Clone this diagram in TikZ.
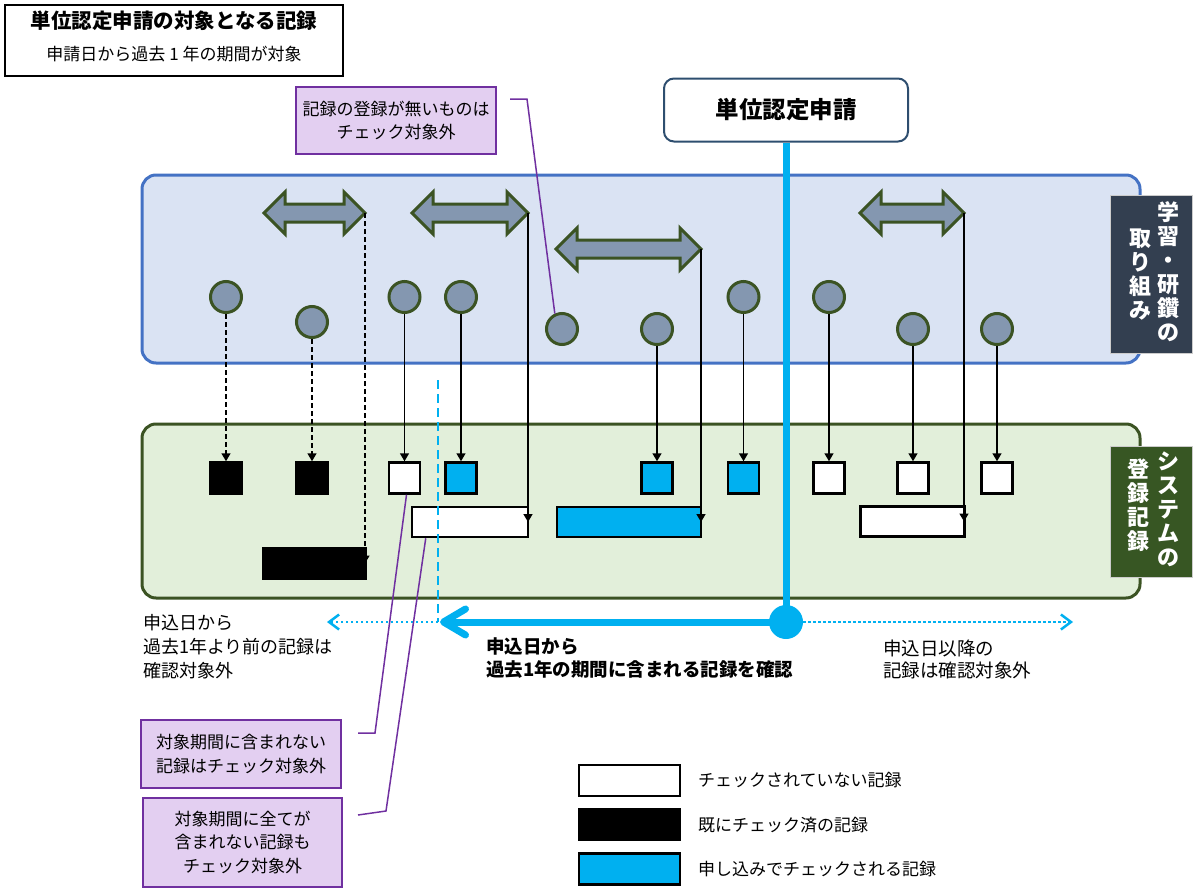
\documentclass[tikz,border=0pt]{standalone}
\usepackage{fontspec}
\setmainfont{Noto Sans CJK JP}
\usetikzlibrary{arrows.meta}
\definecolor{cyanb}{HTML}{00B0F0}
\definecolor{lblue}{HTML}{DAE3F3}
\definecolor{rblue}{HTML}{4472C4}
\definecolor{lgreen}{HTML}{E2EFDA}
\definecolor{dgreen}{HTML}{3B5323}
\definecolor{slate}{HTML}{8497B0}
\definecolor{purp}{HTML}{7030A0}
\definecolor{lpurp}{HTML}{E3CFF1}
\definecolor{navy}{HTML}{333F50}
\definecolor{lgreenlab}{HTML}{375623}
\definecolor{reqc}{HTML}{2E4E6F}
\tikzset{
  zone/.style={rounded corners=14pt, line width=3pt, inner sep=0},
  circ/.style={circle, draw=dgreen, fill=slate, line width=3pt, minimum size=31pt, inner sep=0},
  sq/.style={draw=black, line width=2.5pt, inner sep=0, minimum width=31pt, minimum height=31pt},
  bar/.style={draw=black, line width=2.5pt, inner sep=0, minimum height=30pt},
  conn/.style={line width=1.6pt, -{Triangle[width=9pt,length=8pt]}},
  dconn/.style={conn, dash pattern=on 5pt off 3pt},
  callout/.style={draw=purp, fill=lpurp, line width=1.5pt, align=center, inner sep=0, font=\fontsize{17}{23.5}\selectfont},
  pline/.style={draw=purp, line width=1.5pt},
  txt/.style={align=left, inner sep=0, anchor=west},
  dbl/.style={draw=dgreen, fill=slate, line width=3pt, line join=miter},
  vlab/.style={align=center, inner sep=0, text=white, font=\bfseries\fontsize{22}{24}\selectfont},
  legbox/.style={draw=black, line width=2.5pt, inner sep=0, minimum width=101pt, minimum height=31pt},
  legtxt/.style={anchor=west, inner sep=0, font=\fontsize{17}{20}\selectfont}
}
\newcommand{\dblarrow}[4]{%
  \draw[dbl] (#2,#4) -- (#2+21,#4-21) -- (#2+21,#4-9) -- (#3-21,#4-9) -- (#3-21,#4-21)
    -- (#3,#4) -- (#3-21,#4+21) -- (#3-21,#4+9) -- (#2+21,#4+9) -- (#2+21,#4+21) -- cycle;
  \coordinate (#1) at (#3,#4);}
\begin{document}
\begin{tikzpicture}[x=1pt,y=-1pt]
\useasboundingbox (0,0) rectangle (1195,889);

% title box
\node[draw=black, line width=1.2pt, minimum width=338pt, minimum height=71pt, inner sep=0] (tbox) at (174,40.5) {};
\node[inner sep=0, font=\bfseries\fontsize{20.5}{22}\selectfont] (ttl) at (174,21) {単位認定申請の対象となる記録};
\node[inner sep=0, font=\fontsize{17}{18}\selectfont] (tsub) at (174,54) {申請日から過去 1 年の期間が対象};

% zones
\node[zone, draw=rblue, fill=lblue, minimum width=998pt, minimum height=188pt] (zoneA) at (641,269) {};
\node[zone, draw=dgreen, fill=lgreen, minimum width=998pt, minimum height=174pt] (zoneB) at (641,511) {};

% side labels
\node[fill=navy, draw=gray!40, line width=0.8pt, minimum width=82pt, minimum height=158pt, inner sep=0] (labA) at (1151,274) {};
\node[vlab] (labAr) at (1168,272) {学\\習\\・\\研\\鑽\\の};
\node[vlab] (labAl) at (1140,275) {取\\り\\組\\み};
\node[fill=lgreenlab, draw=gray!40, line width=0.8pt, minimum width=82pt, minimum height=131pt, inner sep=0] (labB) at (1151,511.5) {};
\node[vlab] (labBr) at (1168,509) {シ\\ス\\テ\\ム\\の};
\node[vlab] (labBl) at (1138,505) {登\\録\\記\\録};

% request box and main line
\node[draw=reqc, line width=2pt, rounded corners=10pt, fill=white, minimum width=244pt, minimum height=63pt, inner sep=0, font=\bfseries\fontsize{23.5}{26}\selectfont] (req) at (786,110) {単位認定申請};
\node[circle, fill=cyanb, minimum size=34pt, inner sep=0] (dot) at (786,622) {};
\draw[cyanb, line width=7pt] (req.south) -- (dot.center);

% double arrows
\dblarrow{a1}{264}{365}{213}
\dblarrow{a2}{412}{528}{213}
\dblarrow{a3}{556}{701}{249}
\dblarrow{a4}{860}{964}{213}

% circles
\node[circ] (c1) at (226,297) {};
\node[circ] (c2) at (312,322) {};
\node[circ] (c3) at (404.5,297) {};
\node[circ] (c4) at (461,297) {};
\node[circ] (c5) at (562,329) {};
\node[circ] (c6) at (657,329) {};
\node[circ] (c7) at (743.5,297) {};
\node[circ] (c8) at (829,297) {};
\node[circ] (c9) at (913,329) {};
\node[circ] (c10) at (997,329) {};

% record boxes
\node[sq, fill=black] (b1) at (226,478) {};
\node[sq, fill=black] (b2) at (312,478) {};
\node[sq, fill=white] (b3) at (404.5,478) {};
\node[sq, fill=cyanb] (b4) at (461,478) {};
\node[sq, fill=cyanb] (b5) at (657,478) {};
\node[sq, fill=cyanb] (b6) at (743.5,478) {};
\node[sq, fill=white] (b7) at (829,478) {};
\node[sq, fill=white] (b8) at (913,478) {};
\node[sq, fill=white] (b9) at (997,478) {};
\node[bar, fill=white, minimum width=116pt] (r1) at (470,522) {};
\node[bar, fill=cyanb, minimum width=144pt] (r2) at (629,522) {};
\node[bar, fill=black, minimum width=103pt] (r3) at (314.5,563.5) {};
\node[bar, fill=white, minimum width=104pt] (r4) at (912.5,521.5) {};

% connectors
\draw[dconn] (c1) -- (b1);
\draw[dconn] (c2) -- (b2);
\draw[dconn] (a1) -- (a1 |- r3.east);
\draw[conn] (c3) -- (b3);
\draw[conn] (c4) -- (b4);
\draw[conn] (a2) -- (a2 |- r1.east);
\draw[conn] (a3) -- (a3 |- r2.east);
\draw[conn] (c6) -- (b5);
\draw[conn] (c7) -- (b6);
\draw[conn] (c8) -- (b7);
\draw[conn] (c9) -- (b8);
\draw[conn] (c10) -- (b9);
\draw[conn] (a4) -- (a4 |- r4.east);

% timeline
\coordinate (tl) at (440,622);
\coordinate (dtop) at (438,380);
\coordinate (dbot) at (438,622);
\coordinate (ltip) at (327,622);
\coordinate (rtip) at (1073,622);
\draw[cyanb, line width=2.5pt, dash pattern=on 9pt off 5pt] (dtop) -- (dbot);
\draw[cyanb, line width=7pt, -{Straight Barb[length=22pt,width=26pt,round]}] (dot.center) -- (tl);
\draw[cyanb, line width=2.5pt, dash pattern=on 2.5pt off 2.5pt, -{Straight Barb[length=10pt,width=15pt]}] (dbot) -- (ltip);
\draw[cyanb, line width=2.5pt, dash pattern=on 2.5pt off 2.5pt, -{Straight Barb[length=10pt,width=15pt]}] (dot.east) -- (rtip);

\node[txt, font=\fontsize{18}{24}\selectfont] (tleft) at (143,647) {申込日から\\過去1年より前の記録は\\確認対象外};
\node[txt, font=\bfseries\fontsize{18.5}{23}\selectfont] (tmid) at (486,658.5) {申込日から\\過去1年の期間に含まれる記録を確認};
\node[txt, font=\fontsize{18.5}{22}\selectfont] (tright) at (883,659) {申込日以降の\\記録は確認対象外};

% callouts
\node[callout, minimum width=200pt, minimum height=67pt] (co1) at (396,120.5) {記録の登録が無いものは\\チェック対象外};
\node[callout, minimum width=200pt, minimum height=68pt] (co2) at (241,754) {対象期間に含まれない\\記録はチェック対象外};
\node[callout, minimum width=199pt, minimum height=89pt] (co3) at (242.5,842.5) {対象期間に全てが\\含まれない記録も\\チェック対象外};
\coordinate (p1) at (510,99);
\coordinate (p1b) at (527,99);
\draw[pline] (p1) -- (p1b) -- (c5.115);
\coordinate (p2) at (358,733);
\coordinate (p2b) at (375,733);
\draw[pline] (p2) -- (p2b) -- ([xshift=2pt]b3.south);
\coordinate (p3) at (358,815);
\coordinate (p3b) at (386,811);
\draw[pline] (p3) -- (p3b) -- ([xshift=15pt]r1.south west);

% legend
\node[legbox, fill=white] (lg1) at (629.5,780.5) {};
\node[legbox, fill=black] (lg2) at (629.5,824.5) {};
\node[legbox, fill=cyanb] (lg3) at (629.5,869) {};
\node[legtxt] (lt1) at (698,780) {チェックされていない記録};
\node[legtxt] (lt2) at (698,825) {既にチェック済の記録};
\node[legtxt] (lt3) at (698,869) {申し込みでチェックされる記録};
\end{tikzpicture}
\end{document}
